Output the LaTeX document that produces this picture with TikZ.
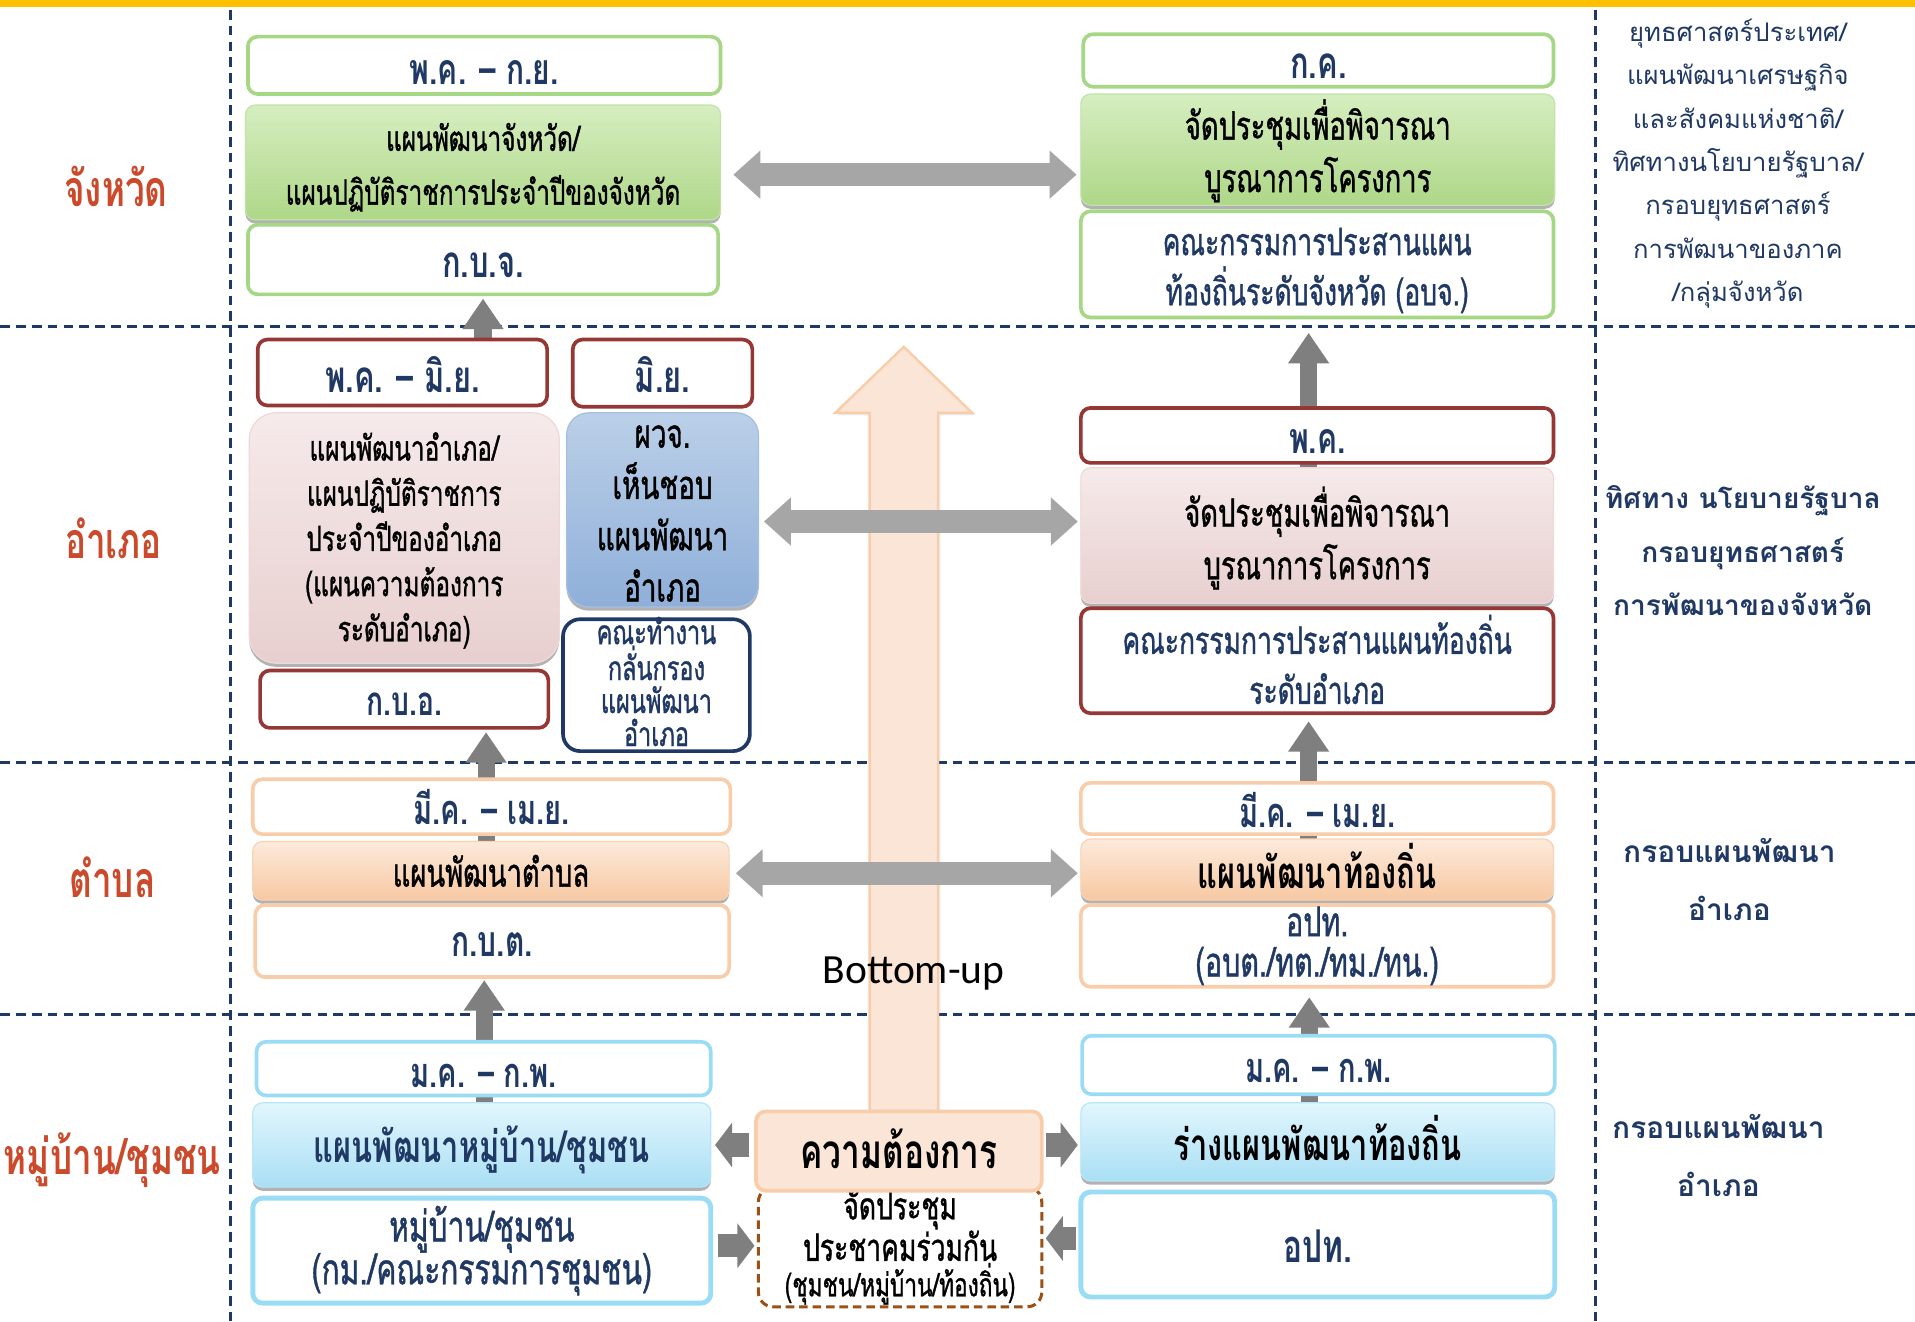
\documentclass[tikz,border=0pt]{standalone}
\usepackage{fontspec}
\usetikzlibrary{arrows.meta,shadows,calc}
\newfontfamily\thc[Script=Thai,FakeStretch=0.7]{Loma}
\newfontfamily\thm[Script=Thai,FakeStretch=0.7,FakeBold=1]{Loma}
\newfontfamily\thw[Script=Thai]{Loma}
\newfontfamily\cb{Carlito}
\newcommand\fs[2]{\fontsize{#1}{#2}\selectfont}
\definecolor{navy}{HTML}{1F3864}
\definecolor{yel}{HTML}{FFC000}
\definecolor{grB}{HTML}{A6D785}
\definecolor{grT}{HTML}{D6EEC0}
\definecolor{grM}{HTML}{AED788}
\definecolor{redB}{HTML}{953735}
\definecolor{pkT}{HTML}{F6EAEA}
\definecolor{pkM}{HTML}{E8CFCF}
\definecolor{blT}{HTML}{BBD0E8}
\definecolor{blM}{HTML}{8FAFD9}
\definecolor{peB}{HTML}{F9CDA9}
\definecolor{peT}{HTML}{FDEADB}
\definecolor{peM}{HTML}{F7C8A2}
\definecolor{peL}{HTML}{FBE5D6}
\definecolor{lbB}{HTML}{9ADCF5}
\definecolor{lbT}{HTML}{E2F6FD}
\definecolor{lbM}{HTML}{A9DFF4}
\definecolor{brn}{HTML}{9B5116}
\definecolor{labred}{HTML}{CB4A2C}
\definecolor{gA}{HTML}{A6A6A6}
\definecolor{gB}{HTML}{7F7F7F}
\pgfdeclarelayer{bg}
\pgfdeclarelayer{mid}
\pgfsetlayers{bg,mid,main}
% #1 name, #2 box style, #3-#6 corners, #7 text style, #8 text shift down, #9 text
\newcommand\bx[9]{%
  \node[#2,minimum width={#5-#3},minimum height={#6-#4}] (#1) at ({(#3+#5)/2},{(#4+#6)/2}) {};
  \node[#7,align=center,inner sep=0pt] (#1t) at ($(#1.center)+(0,#8)$) {#9};}
\tikzset{
  bb/.style={rounded corners=8pt, inner sep=0pt, line width=3pt},
  shd/.style={drop shadow={shadow xshift=0pt, shadow yshift=-3pt, opacity=.3, fill=black}},
  wg/.style={bb, draw=grB, fill=white},
  wr/.style={bb, draw=redB, fill=white},
  wp/.style={bb, draw=peB, fill=white},
  wb/.style={bb, draw=lbB, fill=white},
  wn/.style={bb, draw=navy, fill=white},
  fg/.style={bb, shd, draw=grB!70!white, line width=1pt, top color=grT, bottom color=grM},
  fp/.style={bb, shd, draw=pkM!80!white, line width=1pt, top color=pkT, bottom color=pkM},
  fb/.style={bb, shd, draw=blM!80!white, line width=1pt, top color=blT, bottom color=blM},
  fe/.style={bb, shd, draw=peM!80!white, line width=1pt, top color=peT, bottom color=peM},
  fl/.style={bb, shd, draw=lbM!80!white, line width=1pt, top color=lbT, bottom color=lbM},
  needs/.style={bb, draw=peB, fill=peL},
  meets/.style={bb, draw=brn, fill=white, line width=2.5pt, dash pattern=on 7pt off 4pt, rounded corners=12pt},
  dt/.style={text=navy, font=\thc\bfseries\fs{#1}{#1}},
  nt/.style={text=navy, font=\thm\fs{#1}{#1}},
  bt/.style={text=black, font=\thm\fs{#1}{#1}},
  lab/.style={text=labred, font=\thc\bfseries\fs{41}{41}},
  rt/.style={text=navy, align=center},
  dsh/.style={draw=navy, line width=2.5pt, dash pattern=on 8pt off 5pt},
  dbl/.style={draw=gA, line width=19pt, {Triangle[length=22pt,width=38pt]}-{Triangle[length=22pt,width=38pt]}},
  upar/.style={draw=gB, line width=14pt, -{Triangle[length=25pt,width=32pt]}},
  smar/.style={draw=gB, line width=19pt, -{Triangle[length=14pt,width=36pt]}}
}
\begin{document}
\begin{tikzpicture}[x=1pt,y=-1pt]
\useasboundingbox (0,0) rectangle (1568,1082);
% level 1
\bx{d1l}{wg}{203}{30}{590}{77}{dt=35}{6}{พ.ค. – ก.ย.}
\bx{p1l}{fg}{201}{86}{590}{180}{bt=28,font=\thm\fs{28.5}{44}}{4}{แผนพัฒนาจังหวัด/\\แผนปฏิบัติราชการประจำปีของจังหวัด}
\bx{k1l}{wg}{203}{184}{588}{241}{dt=36}{5}{ก.บ.จ.}
\bx{d1r}{wg}{887}{28}{1272}{71}{dt=36}{5}{ก.ค.}
\bx{p1r}{fg}{885}{77}{1273}{168}{bt=32,font=\thm\fs{32}{43}}{1}{จัดประชุมเพื่อพิจารณา\\บูรณาการโครงการ}
\bx{k1r}{wg}{885}{173}{1272}{260}{nt=31,font=\thm\fs{31}{41}}{5}{คณะกรรมการประสานแผน\\ท้องถิ่นระดับจังหวัด (อบจ.)}
% level 2
\bx{d2l}{wr}{211}{278}{448}{332}{dt=36}{2}{พ.ค. – มิ.ย.}
\bx{d2m}{wr}{469}{278}{616}{333}{dt=36}{1}{มิ.ย.}
\bx{p2l}{fp,rounded corners=22pt}{204}{338}{458}{543}{bt=28,font=\thm\fs{28.5}{37}}{2}{แผนพัฒนาอำเภอ/\\แผนปฏิบัติราชการ\\ประจำปีของอำเภอ\\(แผนความต้องการ\\ระดับอำเภอ)}
\bx{p2m}{fb,rounded corners=18pt}{464}{338}{621}{497}{bt=33,font=\thm\fs{32.5}{42}}{3}{ผวจ.\\เห็นชอบ\\แผนพัฒนา\\อำเภอ}
\bx{k2l}{wr}{213}{549}{449}{596}{dt=33}{4}{ก.บ.อ.}
\bx{k2m}{wn,rounded corners=14pt}{461}{507}{614}{615}{nt=27,font=\thm\fs{27.5}{27}}{-3}{คณะทำงาน\\กลั่นกรอง\\แผนพัฒนา\\อำเภอ}
\bx{d2r}{wr}{885}{334}{1272}{379}{dt=35}{5}{พ.ค.}
\bx{p2r}{fp}{885}{383}{1272}{494}{bt=32,font=\thm\fs{32}{43}}{2}{จัดประชุมเพื่อพิจารณา\\บูรณาการโครงการ}
\bx{k2r}{wr}{885}{498}{1272}{584}{nt=31,font=\thm\fs{31}{41}}{-1}{คณะกรรมการประสานแผนท้องถิ่น\\ระดับอำเภอ}
% level 3
\bx{d3l}{wp}{207}{638}{598}{683}{dt=34}{0}{มี.ค. – เม.ย.}
\bx{p3l}{fe}{207}{689}{597}{737}{bt=32}{0}{แผนพัฒนาตำบล}
\bx{k3l}{wp}{209}{741}{597}{800}{dt=35}{3}{ก.บ.ต.}
\bx{d3r}{wp}{885}{641}{1272}{683}{dt=34}{1}{มี.ค. – เม.ย.}
\bx{p3r}{fe}{885}{687}{1272}{737}{bt=36,font=\thc\bfseries\fs{36}{36}}{-3}{แผนพัฒนาท้องถิ่น}
\bx{k3r}{wp}{885}{741}{1272}{808}{nt=33,font=\thm\fs{33.5}{33}}{0}{อปท.\\(อบต./ทต./ทม./ทน.)}
% level 4
\bx{d4l}{wb}{210}{853}{582}{897}{dt=34}{6}{ม.ค. – ก.พ.}
\bx{p4l}{fl}{207}{903}{582}{972}{nt=36,font=\thc\bfseries\fs{36}{36}}{4}{แผนพัฒนาหมู่บ้าน/ชุมชน}
\bx{k4l}{wb,line width=4pt}{207}{981}{582}{1067}{nt=35,font=\thm\fs{35}{35}}{0}{หมู่บ้าน/ชุมชน\\(กม./คณะกรรมการชุมชน)}
\bx{d4r}{wb}{886}{848}{1273}{896}{dt=34}{5}{ม.ค. – ก.พ.}
\bx{p4r}{fl}{885}{903}{1273}{967}{bt=36,font=\thc\bfseries\fs{36}{36}}{-3}{ร่างแผนพัฒนาท้องถิ่น}
\bx{k4r}{wb,line width=4pt}{885}{976}{1273}{1062}{dt=37}{1}{อปท.}
\bx{meet}{meets}{621}{972}{853}{1070}{bt=31,font=\thm\fs{31}{29}}{0}{จัดประชุม\\ประชาคมร่วมกัน\\{\fs{26.5}{28}(ชุมชน/หมู่บ้าน/ท้องถิ่น)}}
\bx{need}{needs}{619}{910}{853}{975}{bt=39,font=\thc\bfseries\fs{39}{39}}{-2}{ความต้องการ}
% left labels
\node[lab] (lab1) at (95,153) {จังหวัด};
\node[lab] (lab2) at (93,441) {อำเภอ};
\node[lab] (lab3) at (92,718) {ตำบล};
\node[lab] (lab4) at (92,950) {หมู่บ้าน/ชุมชน};
% right column
\node[rt,font=\thw\fs{21}{35.5}] (rc1) at (1423,134) {ยุทธศาสตร์ประเทศ/\\แผนพัฒนาเศรษฐกิจ\\และสังคมแห่งชาติ/\\ทิศทางนโยบายรัฐบาล/\\กรอบยุทธศาสตร์\\การพัฒนาของภาค\\/กลุ่มจังหวัด};
\node[rt,font=\thw\bfseries\fs{23}{44}] (rc2) at (1427,451) {ทิศทาง นโยบายรัฐบาล\\กรอบยุทธศาสตร์\\การพัฒนาของจังหวัด};
\node[rt,font=\thw\bfseries\fs{24.5}{47}] (rc3) at (1416,720) {กรอบแผนพัฒนา\\อำเภอ};
\node[rt,font=\thw\bfseries\fs{24.5}{47}] (rc4) at (1407,946) {กรอบแผนพัฒนา\\อำเภอ};
% background: bar and dashed grid
\begin{pgfonlayer}{bg}
  \fill[white] (0,0) rectangle (1568,1082);
  \fill[yel] (0,0) rectangle (1568,6);
  \draw[dsh] (189,8) -- (189,1082);
  \draw[dsh] (1306,8) -- (1306,1082);
  \draw[dsh] (0,267) -- (1568,267);
  \draw[dsh] (0,624) -- (1568,624);
  \draw[dsh] (0,831) -- (1568,831);
\end{pgfonlayer}
% middle: big arrow and up arrows
\begin{pgfonlayer}{mid}
  \filldraw[fill=peL, draw=peB, line width=2pt, drop shadow={shadow xshift=2pt, shadow yshift=-2pt, opacity=.15}]
    (712,912) -- (712,338) -- (684,338) -- (740,284) -- (796,338) -- (768,338) -- (768,912) -- cycle;
  \draw[upar] ($(d2l.center -| k1l.south)$) -- ($(k1l.south)+(0,2)$);
  \draw[upar] ($(p3l.center)+(-4,0)$) -- ($(p3l.center |- k2l.south)+(-4,2)$);
  \draw[upar] ($(p4l.center)+(2,0)$) -- ($(p4l.center |- k3l.south)+(2,1)$);
  \draw[upar] ($(p2r.center)+(-7,0)$) -- ($(p2r.center |- k1r.south)+(-7,11)$);
  \draw[upar] ($(p3r.center)+(-7,0)$) -- ($(p3r.center |- k2r.south)+(-7,5)$);
  \draw[upar] ($(p4r.center)+(-7,0)$) -- ($(p4r.center |- k3r.south)+(-7,7)$);
\end{pgfonlayer}
% double arrows
\draw[dbl] ($(p1l.east)+(10,10)$) -- ($(p1l.east -| p1r.west)+(-3,10)$);
\draw[dbl] ($(p2m.east)+(4,9.5)$) -- ($(p2m.east -| p2r.west)+(-2,9.5)$);
\draw[dbl] ($(p3l.east)+(5,2)$) -- ($(p3l.east -| p3r.west)+(-2,2)$);
% small arrows
\draw[smar] ($(need.west)+(-4,-5)$) -- ($(need.west -| p4l.east)+(3,-5)$);
\draw[smar] ($(need.east)+(2,-5)$) -- ($(need.east -| p4r.west)+(-2,-5)$);
\draw[smar] ($(k4l.east)+(4,-4)$) -- ($(k4l.east -| meet.west)+(-2,-4)$);
\draw[smar] ($(k4r.west)+(-2,-5)$) -- ($(k4r.west -| meet.east)+(2,-5)$);
% bottom-up label
\node[font=\cb\fs{34}{34}, text=black] (bu) at (748,797) {Bottom-up};
\end{tikzpicture}
\end{document}
